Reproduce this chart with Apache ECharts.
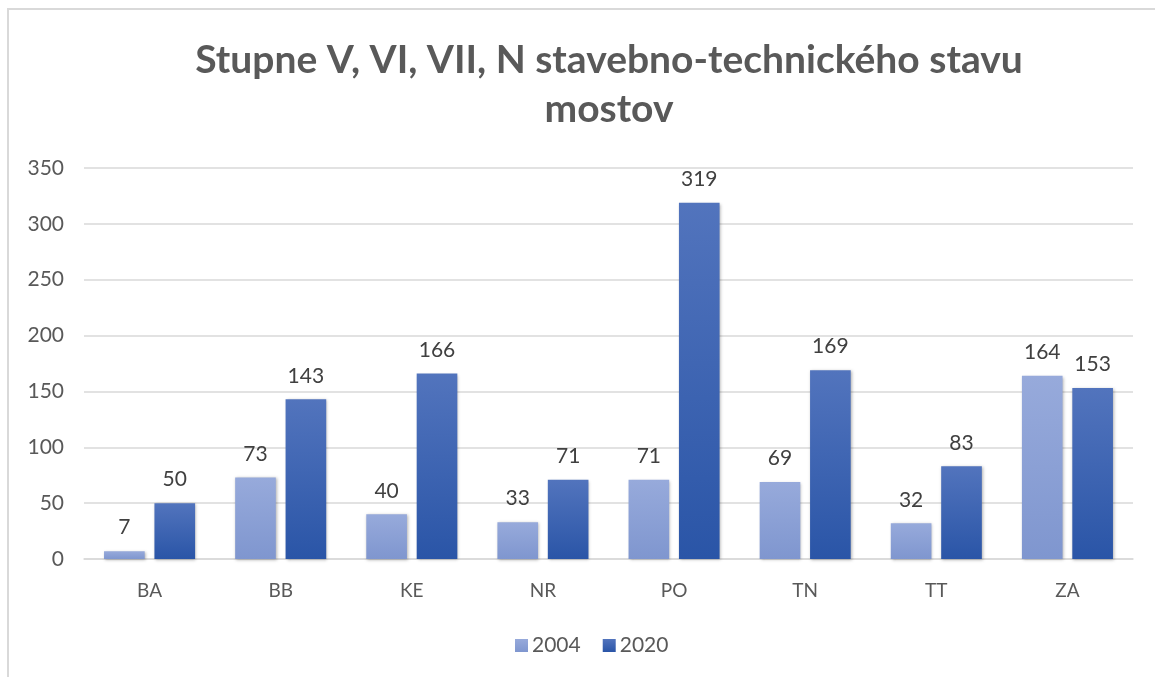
<!DOCTYPE html>
<html>
<head>
<meta charset="utf-8">
<script src="https://cdn.jsdelivr.net/npm/echarts@6/dist/echarts.min.js"></script>
<style>html,body{margin:0;padding:0;background:#fff}#c{width:1155px;height:677px}</style>
</head>
<body>
<div id="c"></div>
<script>
const categories = ['BA','BB','KE','NR','PO','TN','TT','ZA'];
const series2004 = [7,73,40,33,71,69,32,164];
const series2020 = [50,143,166,71,319,169,83,153];
const seriesNames = ['2004','2020'];
const titleText = 'Stupne V, VI, VII, N stavebno-technického stavu\nmostov';

const FONT = 'Lato';
const chart = echarts.init(document.getElementById('c'), null, {renderer:'canvas'});
function grad(top, bottom){
  return new echarts.graphic.LinearGradient(0,0,0,1,[{offset:0,color:top},{offset:1,color:bottom}]);
}
const labelStyle = {show:true, position:'top', distance:13, color:'#404040', fontSize:21, fontFamily:FONT};
chart.setOption({
  backgroundColor:'#fff',
  animation:false,
  graphic:[{type:'rect', shape:{x:8,y:9,width:1200,height:700}, style:{fill:'none', stroke:'#d9d9d9', lineWidth:2}, silent:true}],
  title:{text:titleText, left:604, textAlign:'center', top:31,
    textStyle:{fontFamily:FONT, fontSize:39, fontWeight:'bold', color:'#595959', lineHeight:49}},
  grid:{left:84, right:22, top:168, bottom:118, containLabel:false},
  legend:{left:510, top:630, itemWidth:13, itemHeight:13, itemGap:22, icon:'rect',
    textStyle:{fontFamily:FONT, fontSize:21, color:'#595959', padding:[0,0,0,-1]}},
  xAxis:{type:'category', data:categories,
    axisLine:{lineStyle:{color:'#d9d9d9', width:1.5}}, axisTick:{show:false},
    axisLabel:{fontFamily:FONT, fontSize:19, color:'#595959', margin:22}},
  yAxis:{type:'value', min:0, max:350, interval:50,
    axisLine:{show:false}, axisTick:{show:false},
    splitLine:{lineStyle:{color:'#d9d9d9', width:1.5}},
    axisLabel:{fontFamily:FONT, fontSize:21, color:'#595959', margin:20}},
  series:[
    {name:seriesNames[0], type:'bar', data:series2004, barWidth:'31%', barGap:'24%',
      itemStyle:{color:grad('#97aadb','#7f96cf'), shadowBlur:3, shadowColor:'rgba(0,0,0,0.3)', shadowOffsetX:1, shadowOffsetY:1},
      label:labelStyle},
    {name:seriesNames[1], type:'bar', data:series2020, barWidth:'31%',
      itemStyle:{color:grad('#5274bd','#2a55a7'), shadowBlur:3, shadowColor:'rgba(0,0,0,0.3)', shadowOffsetX:1, shadowOffsetY:1},
      label:labelStyle}
  ]
});
</script>
</body>
</html>
